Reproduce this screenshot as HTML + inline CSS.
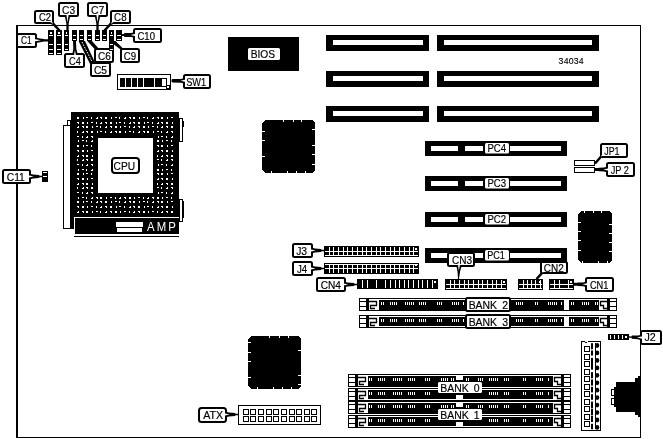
<!DOCTYPE html>
<html><head><meta charset="utf-8"><title>Motherboard layout</title>
<style>
html,body{margin:0;padding:0;background:#fff;}
svg{display:block;filter:grayscale(1);font-family:"Liberation Sans",sans-serif;}
</style></head>
<body>
<svg width="663" height="439" viewBox="0 0 663 439" shape-rendering="crispEdges">
<rect x="0" y="0" width="663" height="439" fill="#fff"/>
<rect x="16" y="25" width="2" height="413" fill="#000"/>
<rect x="16" y="25" width="625" height="1" fill="#000"/>
<rect x="640" y="25" width="1" height="413" fill="#000"/>
<rect x="16" y="437" width="625" height="1" fill="#000"/>
<rect x="48" y="30" width="6" height="25" fill="#000"/>
<rect x="49" y="35" width="4" height="1" fill="#fff"/>
<rect x="49" y="44" width="4" height="1" fill="#fff"/>
<rect x="49" y="49" width="4" height="1" fill="#fff"/>
<rect x="49" y="53" width="4" height="1" fill="#fff"/>
<rect x="50" y="32" width="2" height="2" fill="#fff"/>
<rect x="56" y="30" width="6" height="25" fill="#000"/>
<rect x="57" y="35" width="4" height="1" fill="#fff"/>
<rect x="57" y="44" width="4" height="1" fill="#fff"/>
<rect x="57" y="49" width="4" height="1" fill="#fff"/>
<rect x="57" y="53" width="4" height="1" fill="#fff"/>
<rect x="58" y="32" width="2" height="2" fill="#fff"/>
<rect x="64" y="30" width="5" height="21" fill="#000"/>
<rect x="65" y="35" width="3" height="1" fill="#fff"/>
<rect x="65" y="44" width="3" height="1" fill="#fff"/>
<rect x="65" y="49" width="3" height="1" fill="#fff"/>
<rect x="66" y="32" width="1" height="2" fill="#fff"/>
<rect x="72" y="30" width="5" height="11" fill="#000"/>
<rect x="73" y="35" width="3" height="1" fill="#fff"/>
<rect x="73" y="39" width="3" height="1" fill="#fff"/>
<rect x="79" y="30" width="5" height="11" fill="#000"/>
<rect x="80" y="35" width="3" height="1" fill="#fff"/>
<rect x="80" y="39" width="3" height="1" fill="#fff"/>
<rect x="87" y="30" width="5" height="11" fill="#000"/>
<rect x="88" y="35" width="3" height="1" fill="#fff"/>
<rect x="88" y="39" width="3" height="1" fill="#fff"/>
<rect x="95" y="30" width="5" height="11" fill="#000"/>
<rect x="96" y="35" width="3" height="1" fill="#fff"/>
<rect x="96" y="39" width="3" height="1" fill="#fff"/>
<rect x="102" y="30" width="5" height="11" fill="#000"/>
<rect x="103" y="35" width="3" height="1" fill="#fff"/>
<rect x="103" y="39" width="3" height="1" fill="#fff"/>
<rect x="116" y="30" width="6" height="11" fill="#000"/>
<rect x="117" y="35" width="4" height="1" fill="#fff"/>
<rect x="117" y="39" width="4" height="1" fill="#fff"/>
<polygon points="35.00,37.30 40.00,38.40 44.00,39.00 44.60,39.20 48.00,39.20 48.00,41.40 44.60,41.40 44.00,41.60 40.00,42.20 35.00,43.30" fill="#000" shape-rendering="geometricPrecision"/>
<rect x="17" y="34" width="19" height="13" rx="1.5" ry="1.5" fill="#fff" stroke="#000" stroke-width="2" shape-rendering="geometricPrecision"/>
<polygon points="34.00,39.10 41.00,40.25 41.00,40.35 34.00,41.50" fill="#fff" shape-rendering="geometricPrecision"/>
<text transform="translate(21.0,44.1) scale(0.759,1)" font-size="11" fill="#000" text-anchor="start" stroke="#000" stroke-width="0.18">C1</text>
<polygon points="53.07,20.13 54.32,23.07 54.96,23.83 55.37,24.27 60.41,29.65 58.59,31.35 53.55,25.98 53.14,25.54 52.42,24.85 49.57,23.41" fill="#000" shape-rendering="geometricPrecision"/>
<rect x="35" y="11" width="18" height="12" rx="1.5" ry="1.5" fill="#fff" stroke="#000" stroke-width="2" shape-rendering="geometricPrecision"/>
<polygon points="51.29,20.43 53.06,23.56 52.99,23.63 49.98,21.66" fill="#fff" shape-rendering="geometricPrecision"/>
<text transform="translate(39.0,21.0) scale(0.858,1)" font-size="11" fill="#000" text-anchor="start" stroke="#000" stroke-width="0.18">C2</text>
<polygon points="70.40,15.00 68.65,23.50 68.65,24.00 68.65,24.60 68.65,30.50 66.35,30.50 66.35,24.60 66.35,24.00 66.35,23.50 64.60,15.00" fill="#000" shape-rendering="geometricPrecision"/>
<rect x="59" y="3" width="19" height="13" rx="1.5" ry="1.5" fill="#fff" stroke="#000" stroke-width="2" shape-rendering="geometricPrecision"/>
<polygon points="68.70,14.00 67.55,22.00 67.45,22.00 66.30,14.00" fill="#fff" shape-rendering="geometricPrecision"/>
<text transform="translate(62.1,13.5) scale(0.929,1)" font-size="11" fill="#000" text-anchor="start" stroke="#000" stroke-width="0.18">C3</text>
<polygon points="100.40,15.00 98.65,23.50 98.65,24.00 98.65,24.60 98.65,30.50 96.35,30.50 96.35,24.60 96.35,24.00 96.35,23.50 94.60,15.00" fill="#000" shape-rendering="geometricPrecision"/>
<rect x="88" y="3" width="19" height="13" rx="1.5" ry="1.5" fill="#fff" stroke="#000" stroke-width="2" shape-rendering="geometricPrecision"/>
<polygon points="98.70,14.00 97.55,22.00 97.45,22.00 96.30,14.00" fill="#fff" shape-rendering="geometricPrecision"/>
<text transform="translate(91.0,13.5) scale(0.95,1)" font-size="11" fill="#000" text-anchor="start" stroke="#000" stroke-width="0.18">C7</text>
<polygon points="114.43,23.41 111.58,24.85 110.86,25.54 110.45,25.98 105.41,31.35 103.59,29.65 108.63,24.27 109.04,23.83 109.68,23.07 110.93,20.13" fill="#000" shape-rendering="geometricPrecision"/>
<rect x="111" y="11" width="19" height="12" rx="1.5" ry="1.5" fill="#fff" stroke="#000" stroke-width="2" shape-rendering="geometricPrecision"/>
<polygon points="114.02,21.66 111.01,23.63 110.94,23.56 112.71,20.43" fill="#fff" shape-rendering="geometricPrecision"/>
<text transform="translate(114.1,21.0) scale(0.887,1)" font-size="11" fill="#000" text-anchor="start" stroke="#000" stroke-width="0.18">C8</text>
<polygon points="135.00,38.00 131.00,37.10 124.50,37.00 123.90,36.00 122.00,36.00 122.00,34.00 123.90,34.00 124.50,33.00 131.00,32.90 135.00,32.00" fill="#000" shape-rendering="geometricPrecision"/>
<rect x="134" y="29" width="27" height="13" rx="1.5" ry="1.5" fill="#fff" stroke="#000" stroke-width="2" shape-rendering="geometricPrecision"/>
<polygon points="136.00,36.30 130.40,35.05 130.40,34.95 136.00,33.70" fill="#fff" shape-rendering="geometricPrecision"/>
<text transform="translate(137.4,39.5) scale(0.871,1)" font-size="11" fill="#000" text-anchor="start" stroke="#000" stroke-width="0.18">C10</text>
<polygon points="72.14,55.11 73.31,49.06 73.27,48.06 73.25,47.46 73.00,41.06 76.00,40.94 76.25,47.35 76.27,47.95 76.31,48.95 77.94,54.89" fill="#000" shape-rendering="geometricPrecision"/>
<rect x="65" y="54" width="19" height="13" rx="1.5" ry="1.5" fill="#fff" stroke="#000" stroke-width="2" shape-rendering="geometricPrecision"/>
<polygon points="73.98,56.04 74.82,50.50 74.92,50.50 76.18,55.96" fill="#fff" shape-rendering="geometricPrecision"/>
<text transform="translate(69.1,64.5) scale(0.837,1)" font-size="11" fill="#000" text-anchor="start" stroke="#000" stroke-width="0.18">C4</text>
<polygon points="87.3,41 92,41 99.5,49.5 95,49.5" fill="#000" shape-rendering="geometricPrecision"/>
<rect x="95" y="49" width="18" height="13" rx="1.5" ry="1.5" fill="#fff" stroke="#000" stroke-width="2" shape-rendering="geometricPrecision"/>
<text transform="translate(98.0,59.5) scale(0.915,1)" font-size="11" fill="#000" text-anchor="start" stroke="#000" stroke-width="0.18">C6</text>
<rect x="109" y="30" width="5" height="21" fill="#000"/>
<rect x="110" y="35" width="3" height="1" fill="#fff"/>
<rect x="110" y="44" width="3" height="1" fill="#fff"/>
<rect x="110" y="49" width="3" height="1" fill="#fff"/>
<rect x="111" y="32" width="1" height="2" fill="#fff"/>
<polygon points="78.6,41 85,41 95,62.5 90.3,64.5" fill="#000" shape-rendering="geometricPrecision"/>
<line x1="82" y1="42" x2="91.6" y2="61" stroke="#fff" stroke-width="1" stroke-dasharray="1.6 1.2" shape-rendering="geometricPrecision"/>
<rect x="91" y="63" width="19" height="13" rx="1.5" ry="1.5" fill="#fff" stroke="#000" stroke-width="2" shape-rendering="geometricPrecision"/>
<text transform="translate(94.0,73.5) scale(0.929,1)" font-size="11" fill="#000" text-anchor="start" stroke="#000" stroke-width="0.18">C5</text>
<polygon points="114,41 115.5,41 124,49.5 120.5,49.5 114,44.5" fill="#000" shape-rendering="geometricPrecision"/>
<rect x="121" y="49" width="18" height="13" rx="1.5" ry="1.5" fill="#fff" stroke="#000" stroke-width="2" shape-rendering="geometricPrecision"/>
<text transform="translate(123.7,59.5) scale(0.879,1)" font-size="11" fill="#000" text-anchor="start" stroke="#000" stroke-width="0.18">C9</text>
<rect x="117" y="74" width="54" height="16" fill="#000"/>
<rect x="118" y="75" width="52" height="14" fill="#fff"/>
<rect x="120" y="78" width="47" height="9" fill="#000"/>
<rect x="125" y="78" width="1" height="9" fill="#fff"/>
<rect x="131" y="78" width="1" height="9" fill="#fff"/>
<rect x="137" y="78" width="1" height="9" fill="#fff"/>
<rect x="143" y="78" width="1" height="9" fill="#fff"/>
<rect x="154" y="78" width="1" height="9" fill="#fff"/>
<rect x="162" y="79" width="4" height="7" fill="#fff"/>
<rect x="166" y="85" width="4" height="4" fill="#000"/>
<rect x="167" y="86" width="2" height="2" fill="#fff"/>
<polygon points="185.00,83.80 181.00,82.70 172.50,82.50 171.90,82.00 171.50,82.00 171.50,79.60 171.90,79.60 172.50,79.10 181.00,78.90 185.00,77.80" fill="#000" shape-rendering="geometricPrecision"/>
<rect x="184" y="75" width="26" height="13" rx="1.5" ry="1.5" fill="#fff" stroke="#000" stroke-width="2" shape-rendering="geometricPrecision"/>
<polygon points="186.00,82.10 180.40,80.85 180.40,80.75 186.00,79.50" fill="#fff" shape-rendering="geometricPrecision"/>
<text transform="translate(186.2,85.5) scale(0.836,1)" font-size="11" fill="#000" text-anchor="start" stroke="#000" stroke-width="0.18">SW1</text>
<rect x="228" y="37" width="71" height="34" fill="#000"/>
<rect x="248" y="48" width="32" height="12" rx="1.5" ry="1.5" fill="#fff" shape-rendering="geometricPrecision"/>
<text transform="translate(250.7,58.0) scale(0.928,1)" font-size="11" fill="#000" text-anchor="start" stroke="#000" stroke-width="0.18">BIOS</text>
<rect x="326" y="35" width="103" height="16" fill="#000"/>
<rect x="333" y="40" width="90" height="5" fill="#fff"/>
<rect x="437" y="35" width="162" height="16" fill="#000"/>
<rect x="444" y="40" width="148" height="5" fill="#fff"/>
<rect x="326" y="71" width="103" height="16" fill="#000"/>
<rect x="333" y="76" width="90" height="5" fill="#fff"/>
<rect x="437" y="71" width="162" height="16" fill="#000"/>
<rect x="444" y="76" width="148" height="5" fill="#fff"/>
<rect x="326" y="106" width="103" height="16" fill="#000"/>
<rect x="333" y="111" width="90" height="5" fill="#fff"/>
<rect x="437" y="106" width="162" height="16" fill="#000"/>
<rect x="444" y="111" width="148" height="5" fill="#fff"/>
<text transform="translate(558.6,63.9) scale(0.89,1)" font-size="9.8" fill="#000" text-anchor="start" stroke="#000" stroke-width="0.15" letter-spacing="0.25">34034</text>
<rect x="425" y="141" width="142" height="15" fill="#000"/>
<rect x="431" y="146" width="27" height="5" fill="#fff"/>
<rect x="465" y="146" width="18" height="5" fill="#fff"/>
<rect x="510" y="146" width="51" height="5" fill="#fff"/>
<rect x="485" y="143" width="24" height="10.5" rx="1.5" ry="1.5" fill="#fff" shape-rendering="geometricPrecision"/>
<text transform="translate(487.4,152.25) scale(0.874,1)" font-size="11" fill="#000" text-anchor="start" stroke="#000" stroke-width="0.18">PC4</text>
<rect x="425" y="176" width="142" height="15" fill="#000"/>
<rect x="431" y="181" width="27" height="5" fill="#fff"/>
<rect x="465" y="181" width="18" height="5" fill="#fff"/>
<rect x="510" y="181" width="51" height="5" fill="#fff"/>
<rect x="485" y="178" width="24" height="10.5" rx="1.5" ry="1.5" fill="#fff" shape-rendering="geometricPrecision"/>
<text transform="translate(487.4,187.25) scale(0.874,1)" font-size="11" fill="#000" text-anchor="start" stroke="#000" stroke-width="0.18">PC3</text>
<rect x="425" y="212" width="142" height="15" fill="#000"/>
<rect x="431" y="217" width="27" height="5" fill="#fff"/>
<rect x="465" y="217" width="18" height="5" fill="#fff"/>
<rect x="510" y="217" width="51" height="5" fill="#fff"/>
<rect x="485" y="214" width="24" height="10.5" rx="1.5" ry="1.5" fill="#fff" shape-rendering="geometricPrecision"/>
<text transform="translate(487.4,223.25) scale(0.874,1)" font-size="11" fill="#000" text-anchor="start" stroke="#000" stroke-width="0.18">PC2</text>
<rect x="425" y="248" width="142" height="15" fill="#000"/>
<rect x="431" y="253" width="27" height="5" fill="#fff"/>
<rect x="465" y="253" width="18" height="5" fill="#fff"/>
<rect x="510" y="253" width="51" height="5" fill="#fff"/>
<rect x="485" y="250" width="24" height="10.5" rx="1.5" ry="1.5" fill="#fff" shape-rendering="geometricPrecision"/>
<text transform="translate(487.2,259.25) scale(0.827,1)" font-size="11" fill="#000" text-anchor="start" stroke="#000" stroke-width="0.18">PC1</text>
<rect x="574" y="160" width="21" height="6" fill="#000"/>
<rect x="575" y="161" width="19" height="4" fill="#fff"/>
<rect x="574" y="167" width="21" height="6" fill="#000"/>
<rect x="575" y="168" width="19" height="4" fill="#fff"/>
<polygon points="604.46,156.33 601.66,157.86 600.97,158.58 600.57,159.03 595.94,164.32 594.06,162.68 598.69,157.39 599.08,156.93 599.70,156.15 600.85,153.17" fill="#000" shape-rendering="geometricPrecision"/>
<rect x="601" y="144" width="26" height="13" rx="1.5" ry="1.5" fill="#fff" stroke="#000" stroke-width="2" shape-rendering="geometricPrecision"/>
<polygon points="603.99,154.59 601.05,156.66 600.97,156.60 602.64,153.40" fill="#fff" shape-rendering="geometricPrecision"/>
<text transform="translate(604.2,154.5) scale(0.811,1)" font-size="11" fill="#000" text-anchor="start" stroke="#000" stroke-width="0.18">JP1</text>
<polygon points="608.00,172.50 604.00,171.40 599.00,171.20 598.40,171.00 595.00,171.00 595.00,168.00 598.40,168.00 599.00,167.80 604.00,167.60 608.00,166.50" fill="#000" shape-rendering="geometricPrecision"/>
<rect x="607" y="163" width="27" height="13" rx="1.5" ry="1.5" fill="#fff" stroke="#000" stroke-width="2" shape-rendering="geometricPrecision"/>
<polygon points="609.00,170.80 603.40,169.55 603.40,169.45 609.00,168.20" fill="#fff" shape-rendering="geometricPrecision"/>
<text transform="translate(610.7,173.5) scale(0.835,1)" font-size="11" fill="#000" text-anchor="start" stroke="#000" stroke-width="0.18">JP 2</text>
<polygon points="265,120 312,120 315,123 315,170 312,173 265,173 262,170 262,123" fill="#000"/>
<rect x="283" y="120" width="1" height="2" fill="#fff"/>
<rect x="293" y="120" width="1" height="2" fill="#fff"/>
<rect x="301" y="120" width="1" height="2" fill="#fff"/>
<rect x="271" y="171" width="1" height="2" fill="#fff"/>
<rect x="287" y="171" width="1" height="2" fill="#fff"/>
<rect x="296" y="171" width="1" height="2" fill="#fff"/>
<rect x="305" y="171" width="1" height="2" fill="#fff"/>
<rect x="262" y="131" width="3" height="1" fill="#fff"/>
<rect x="262" y="140" width="3" height="1" fill="#fff"/>
<rect x="262" y="156" width="3" height="1" fill="#fff"/>
<rect x="312" y="129" width="3" height="1" fill="#fff"/>
<rect x="312" y="145" width="3" height="1" fill="#fff"/>
<rect x="312" y="154" width="3" height="1" fill="#fff"/>
<rect x="312" y="164" width="3" height="1" fill="#fff"/>
<polygon points="251,336 298,336 301,339 301,386 298,389 251,389 248,386 248,339" fill="#000"/>
<rect x="269" y="336" width="1" height="2" fill="#fff"/>
<rect x="279" y="336" width="1" height="2" fill="#fff"/>
<rect x="288" y="336" width="1" height="2" fill="#fff"/>
<rect x="257" y="387" width="1" height="2" fill="#fff"/>
<rect x="273" y="387" width="1" height="2" fill="#fff"/>
<rect x="282" y="387" width="1" height="2" fill="#fff"/>
<rect x="291" y="387" width="1" height="2" fill="#fff"/>
<rect x="248" y="342" width="3" height="1" fill="#fff"/>
<rect x="248" y="352" width="3" height="1" fill="#fff"/>
<rect x="248" y="361" width="3" height="1" fill="#fff"/>
<rect x="248" y="377" width="3" height="1" fill="#fff"/>
<rect x="298" y="350" width="3" height="1" fill="#fff"/>
<rect x="298" y="375" width="3" height="1" fill="#fff"/>
<rect x="298" y="384" width="3" height="1" fill="#fff"/>
<polygon points="581,211 609,211 612,214 612,260 609,263 581,263 578,260 578,214" fill="#000"/>
<rect x="584" y="211" width="1" height="2" fill="#fff"/>
<rect x="593" y="211" width="1" height="2" fill="#fff"/>
<rect x="601" y="211" width="1" height="2" fill="#fff"/>
<rect x="582" y="261" width="1" height="2" fill="#fff"/>
<rect x="598" y="261" width="1" height="2" fill="#fff"/>
<rect x="607" y="261" width="1" height="2" fill="#fff"/>
<rect x="578" y="222" width="3" height="1" fill="#fff"/>
<rect x="578" y="231" width="3" height="1" fill="#fff"/>
<rect x="578" y="240" width="3" height="1" fill="#fff"/>
<rect x="578" y="250" width="3" height="1" fill="#fff"/>
<rect x="609" y="224" width="3" height="1" fill="#fff"/>
<rect x="609" y="233" width="3" height="1" fill="#fff"/>
<rect x="609" y="242" width="3" height="1" fill="#fff"/>
<rect x="609" y="251" width="3" height="1" fill="#fff"/>
<rect x="71" y="112" width="108" height="105" fill="#000"/>
<rect x="70" y="120" width="4" height="109" fill="#000"/>
<rect x="63" y="125" width="8" height="104" fill="#000"/>
<rect x="64" y="126" width="6" height="102" fill="#fff"/>
<rect x="67" y="120" width="4" height="6" fill="#000"/>
<rect x="68" y="121" width="2" height="4" fill="#fff"/>
<rect x="98" y="138" width="55" height="55" fill="#fff"/>
<path d="M77,117h2v2h-2zM77,122h2v2h-1v-1h-1zM77,127h1v-1h1v2h-2zM77,131h1v2h-1zM77,136h2v1h-2zM78,140h1v2h-1zM77,145h2v2h-2zM77,150h2v2h-1v-1h-1zM77,156h1v-1h1v2h-2zM77,159h1v2h-1zM77,164h2v1h-2zM78,169h1v2h-1zM77,173h2v2h-2zM77,178h2v2h-1v-1h-1zM77,184h1v-1h1v2h-2zM77,187h1v2h-1zM77,192h2v1h-2zM78,197h1v2h-1zM77,201h2v2h-2zM77,206h2v2h-1v-1h-1zM77,212h1v-1h1v2h-2zM83,117h1v2h-1zM82,122h2v2h-2zM82,126h2v2h-1v-1h-1zM82,132h1v-1h1v2h-2zM82,136h1v2h-1zM82,140h2v1h-2zM83,145h1v2h-1zM82,150h2v2h-2zM82,155h2v2h-1v-1h-1zM82,160h1v-1h1v2h-2zM82,164h1v2h-1zM82,169h2v1h-2zM83,173h1v2h-1zM82,178h2v2h-2zM82,183h2v2h-1v-1h-1zM82,188h1v-1h1v2h-2zM82,192h1v2h-1zM82,197h2v1h-2zM83,201h1v2h-1zM82,206h2v2h-2zM82,211h2v2h-1v-1h-1zM86,117h2v1h-2zM87,122h1v2h-1zM86,126h2v2h-2zM86,131h2v2h-1v-1h-1zM86,137h1v-1h1v2h-2zM86,140h1v2h-1zM86,145h2v1h-2zM87,150h1v2h-1zM86,155h2v2h-2zM86,159h2v2h-1v-1h-1zM86,165h1v-1h1v2h-2zM86,169h1v2h-1zM86,173h2v1h-2zM87,178h1v2h-1zM86,183h2v2h-2zM86,187h2v2h-1v-1h-1zM86,193h1v-1h1v2h-2zM86,197h1v2h-1zM86,201h2v1h-2zM87,206h1v2h-1zM86,211h2v2h-2zM91,117h1v2h-1zM91,122h2v1h-2zM92,126h1v2h-1zM91,131h2v2h-2zM91,136h2v2h-1v-1h-1zM91,141h1v-1h1v2h-2zM91,145h1v2h-1zM91,150h2v1h-2zM92,155h1v2h-1zM91,159h2v2h-2zM91,164h2v2h-1v-1h-1zM91,170h1v-1h1v2h-2zM91,173h1v2h-1zM91,178h2v1h-2zM92,183h1v2h-1zM91,187h2v2h-2zM91,192h2v2h-1v-1h-1zM91,198h1v-1h1v2h-2zM91,201h1v2h-1zM91,206h2v1h-2zM92,211h1v2h-1zM96,118h1v-1h1v2h-2zM96,122h1v2h-1zM96,126h2v1h-2zM97,131h1v2h-1zM96,197h2v2h-1v-1h-1zM96,202h1v-1h1v2h-2zM96,206h1v2h-1zM96,211h2v1h-2zM100,117h2v2h-1v-1h-1zM100,123h1v-1h1v2h-2zM100,126h1v2h-1zM100,131h2v1h-2zM100,197h2v2h-2zM100,201h2v2h-1v-1h-1zM100,207h1v-1h1v2h-2zM100,211h1v2h-1zM105,117h2v2h-2zM105,122h2v2h-1v-1h-1zM105,127h1v-1h1v2h-2zM105,131h1v2h-1zM106,197h1v2h-1zM105,201h2v2h-2zM105,206h2v2h-1v-1h-1zM105,212h1v-1h1v2h-2zM111,117h1v2h-1zM110,122h2v2h-2zM110,126h2v2h-1v-1h-1zM110,132h1v-1h1v2h-2zM110,197h2v1h-2zM111,201h1v2h-1zM110,206h2v2h-2zM110,211h2v2h-1v-1h-1zM115,117h2v1h-2zM116,122h1v2h-1zM115,126h2v2h-2zM115,131h2v2h-1v-1h-1zM115,197h1v2h-1zM115,201h2v1h-2zM116,206h1v2h-1zM115,211h2v2h-2zM119,117h1v2h-1zM119,122h2v1h-2zM120,126h1v2h-1zM119,131h2v2h-2zM119,198h1v-1h1v2h-2zM119,201h1v2h-1zM119,206h2v1h-2zM120,211h1v2h-1zM124,118h1v-1h1v2h-2zM124,122h1v2h-1zM124,126h2v1h-2zM125,131h1v2h-1zM124,197h2v2h-1v-1h-1zM124,202h1v-1h1v2h-2zM124,206h1v2h-1zM124,211h2v1h-2zM129,117h2v2h-1v-1h-1zM129,123h1v-1h1v2h-2zM129,126h1v2h-1zM129,131h2v1h-2zM129,197h2v2h-2zM129,201h2v2h-1v-1h-1zM129,207h1v-1h1v2h-2zM129,211h1v2h-1zM133,117h2v2h-2zM133,122h2v2h-1v-1h-1zM133,127h1v-1h1v2h-2zM133,131h1v2h-1zM134,197h1v2h-1zM133,201h2v2h-2zM133,206h2v2h-1v-1h-1zM133,212h1v-1h1v2h-2zM139,117h1v2h-1zM138,122h2v2h-2zM138,126h2v2h-1v-1h-1zM138,132h1v-1h1v2h-2zM138,197h2v1h-2zM139,201h1v2h-1zM138,206h2v2h-2zM138,211h2v2h-1v-1h-1zM143,117h2v1h-2zM144,122h1v2h-1zM143,126h2v2h-2zM143,131h2v2h-1v-1h-1zM143,197h1v2h-1zM143,201h2v1h-2zM144,206h1v2h-1zM143,211h2v2h-2zM147,117h1v2h-1zM147,122h2v1h-2zM148,126h1v2h-1zM147,131h2v2h-2zM147,198h1v-1h1v2h-2zM147,201h1v2h-1zM147,206h2v1h-2zM148,211h1v2h-1zM152,118h1v-1h1v2h-2zM152,122h1v2h-1zM152,126h2v1h-2zM153,131h1v2h-1zM152,197h2v2h-1v-1h-1zM152,202h1v-1h1v2h-2zM152,206h1v2h-1zM152,211h2v1h-2zM157,117h2v2h-1v-1h-1zM157,123h1v-1h1v2h-2zM157,126h1v2h-1zM157,131h2v1h-2zM158,136h1v2h-1zM157,140h2v2h-2zM157,145h2v2h-1v-1h-1zM157,151h1v-1h1v2h-2zM157,155h1v2h-1zM157,159h2v1h-2zM158,164h1v2h-1zM157,169h2v2h-2zM157,173h2v2h-1v-1h-1zM157,179h1v-1h1v2h-2zM157,183h1v2h-1zM157,187h2v1h-2zM158,192h1v2h-1zM157,197h2v2h-2zM157,201h2v2h-1v-1h-1zM157,207h1v-1h1v2h-2zM157,211h1v2h-1zM161,117h2v2h-2zM161,122h2v2h-1v-1h-1zM161,127h1v-1h1v2h-2zM161,131h1v2h-1zM161,136h2v1h-2zM162,140h1v2h-1zM161,145h2v2h-2zM161,150h2v2h-1v-1h-1zM161,156h1v-1h1v2h-2zM161,159h1v2h-1zM161,164h2v1h-2zM162,169h1v2h-1zM161,173h2v2h-2zM161,178h2v2h-1v-1h-1zM161,184h1v-1h1v2h-2zM161,187h1v2h-1zM161,192h2v1h-2zM162,197h1v2h-1zM161,201h2v2h-2zM161,206h2v2h-1v-1h-1zM161,212h1v-1h1v2h-2zM167,117h1v2h-1zM166,122h2v2h-2zM166,126h2v2h-1v-1h-1zM166,132h1v-1h1v2h-2zM166,136h1v2h-1zM166,140h2v1h-2zM167,145h1v2h-1zM166,150h2v2h-2zM166,155h2v2h-1v-1h-1zM166,160h1v-1h1v2h-2zM166,164h1v2h-1zM166,169h2v1h-2zM167,173h1v2h-1zM166,178h2v2h-2zM166,183h2v2h-1v-1h-1zM166,188h1v-1h1v2h-2zM166,192h1v2h-1zM166,197h2v1h-2zM167,201h1v2h-1zM166,206h2v2h-2zM166,211h2v2h-1v-1h-1zM171,117h2v1h-2zM172,122h1v2h-1zM171,126h2v2h-2zM171,131h2v2h-1v-1h-1zM171,137h1v-1h1v2h-2zM171,140h1v2h-1zM171,145h2v1h-2zM172,150h1v2h-1zM171,155h2v2h-2zM171,159h2v2h-1v-1h-1zM171,165h1v-1h1v2h-2zM171,169h1v2h-1zM171,173h2v1h-2zM172,178h1v2h-1zM171,183h2v2h-2zM171,187h2v2h-1v-1h-1zM171,193h1v-1h1v2h-2zM171,197h1v2h-1zM171,201h2v1h-2zM172,206h1v2h-1zM171,211h2v2h-2z" fill="#fff"/>
<rect x="179" y="118" width="4" height="24" fill="#000"/>
<rect x="180" y="119" width="2" height="22" fill="#fff"/>
<rect x="183" y="121" width="1" height="6" fill="#000"/>
<rect x="179" y="199" width="4" height="23" fill="#000"/>
<rect x="180" y="200" width="2" height="21" fill="#fff"/>
<rect x="183" y="201" width="1" height="17" fill="#000"/>
<rect x="74" y="217" width="105" height="17" fill="#000"/>
<rect x="74" y="217" width="105" height="1" fill="#fff"/>
<rect x="74" y="217" width="1" height="17" fill="#fff"/>
<rect x="74" y="236" width="105" height="1" fill="#000"/>
<rect x="116" y="222" width="27" height="5" fill="#fff"/>
<rect x="117" y="228" width="25" height="4" fill="#fff"/>
<text transform="translate(162.5,231) scale(0.95,1)" font-size="12" fill="#fff" text-anchor="middle" letter-spacing="2.2">AMP</text>
<rect x="112" y="158" width="27" height="15" rx="3" ry="3" fill="#fff" stroke="#000" stroke-width="2" shape-rendering="geometricPrecision"/>
<text transform="translate(113.6,170.0) scale(0.927,1)" font-size="11" fill="#000" text-anchor="start" stroke="#000" stroke-width="0.18">CPU</text>
<rect x="42" y="171" width="6" height="11" fill="#000"/>
<rect x="43" y="172" width="4" height="1" fill="#fff"/>
<rect x="43" y="176" width="4" height="1" fill="#fff"/>
<polygon points="29.00,173.50 33.00,174.60 39.00,174.90 39.60,175.80 42.00,175.80 42.00,177.20 39.60,177.20 39.00,178.10 33.00,178.40 29.00,179.50" fill="#000" shape-rendering="geometricPrecision"/>
<rect x="3" y="170" width="27" height="13" rx="1.5" ry="1.5" fill="#fff" stroke="#000" stroke-width="2" shape-rendering="geometricPrecision"/>
<polygon points="28.00,175.20 33.60,176.45 33.60,176.55 28.00,177.80" fill="#fff" shape-rendering="geometricPrecision"/>
<text transform="translate(6.7,180.5) scale(0.938,1)" font-size="11" fill="#000" text-anchor="start" stroke="#000" stroke-width="0.18">C11</text>
<rect x="324" y="246" width="95" height="11" fill="#000"/>
<rect x="325" y="251" width="93" height="1" fill="#fff"/>
<rect x="325" y="255" width="93" height="1" fill="#fff"/>
<rect x="329" y="247" width="1" height="9" fill="#fff"/>
<rect x="333" y="247" width="1" height="9" fill="#fff"/>
<rect x="338" y="247" width="1" height="9" fill="#fff"/>
<rect x="343" y="247" width="1" height="9" fill="#fff"/>
<rect x="347" y="247" width="1" height="9" fill="#fff"/>
<rect x="352" y="247" width="1" height="9" fill="#fff"/>
<rect x="357" y="247" width="1" height="9" fill="#fff"/>
<rect x="362" y="247" width="1" height="9" fill="#fff"/>
<rect x="366" y="247" width="1" height="9" fill="#fff"/>
<rect x="371" y="247" width="1" height="9" fill="#fff"/>
<rect x="376" y="247" width="1" height="9" fill="#fff"/>
<rect x="380" y="247" width="1" height="9" fill="#fff"/>
<rect x="385" y="247" width="1" height="9" fill="#fff"/>
<rect x="390" y="247" width="1" height="9" fill="#fff"/>
<rect x="394" y="247" width="1" height="9" fill="#fff"/>
<rect x="399" y="247" width="1" height="9" fill="#fff"/>
<rect x="404" y="247" width="1" height="9" fill="#fff"/>
<rect x="409" y="247" width="1" height="9" fill="#fff"/>
<rect x="413" y="247" width="1" height="9" fill="#fff"/>
<rect x="415" y="248" width="2" height="2" fill="#fff"/>
<rect x="324" y="263" width="95" height="11" fill="#000"/>
<rect x="325" y="264" width="93" height="1" fill="#fff"/>
<rect x="325" y="268" width="93" height="1" fill="#fff"/>
<rect x="329" y="264" width="1" height="9" fill="#fff"/>
<rect x="333" y="264" width="1" height="9" fill="#fff"/>
<rect x="338" y="264" width="1" height="9" fill="#fff"/>
<rect x="343" y="264" width="1" height="9" fill="#fff"/>
<rect x="347" y="264" width="1" height="9" fill="#fff"/>
<rect x="352" y="264" width="1" height="9" fill="#fff"/>
<rect x="357" y="264" width="1" height="9" fill="#fff"/>
<rect x="362" y="264" width="1" height="9" fill="#fff"/>
<rect x="366" y="264" width="1" height="9" fill="#fff"/>
<rect x="371" y="264" width="1" height="9" fill="#fff"/>
<rect x="376" y="264" width="1" height="9" fill="#fff"/>
<rect x="380" y="264" width="1" height="9" fill="#fff"/>
<rect x="385" y="264" width="1" height="9" fill="#fff"/>
<rect x="390" y="264" width="1" height="9" fill="#fff"/>
<rect x="394" y="264" width="1" height="9" fill="#fff"/>
<rect x="399" y="264" width="1" height="9" fill="#fff"/>
<rect x="404" y="264" width="1" height="9" fill="#fff"/>
<rect x="409" y="264" width="1" height="9" fill="#fff"/>
<rect x="413" y="264" width="1" height="9" fill="#fff"/>
<rect x="415" y="265" width="2" height="1" fill="#fff"/>
<polygon points="311.00,247.50 315.00,248.60 321.00,248.90 321.60,249.80 324.00,249.80 324.00,251.20 321.60,251.20 321.00,252.10 315.00,252.40 311.00,253.50" fill="#000" shape-rendering="geometricPrecision"/>
<rect x="293" y="244" width="19" height="13" rx="1.5" ry="1.5" fill="#fff" stroke="#000" stroke-width="2" shape-rendering="geometricPrecision"/>
<polygon points="310.00,249.20 315.60,250.45 315.60,250.55 310.00,251.80" fill="#fff" shape-rendering="geometricPrecision"/>
<text transform="translate(296.2,254.5) scale(0.94,1)" font-size="11" fill="#000" text-anchor="start" stroke="#000" stroke-width="0.18">J3</text>
<polygon points="311.00,265.50 315.00,266.60 321.00,266.90 321.60,267.80 324.00,267.80 324.00,269.20 321.60,269.20 321.00,270.10 315.00,270.40 311.00,271.50" fill="#000" shape-rendering="geometricPrecision"/>
<rect x="293" y="262" width="19" height="13" rx="1.5" ry="1.5" fill="#fff" stroke="#000" stroke-width="2" shape-rendering="geometricPrecision"/>
<polygon points="310.00,267.20 315.60,268.45 315.60,268.55 310.00,269.80" fill="#fff" shape-rendering="geometricPrecision"/>
<text transform="translate(296.9,272.5) scale(0.879,1)" font-size="11" fill="#000" text-anchor="start" stroke="#000" stroke-width="0.18">J4</text>
<rect x="357" y="279" width="81" height="10" fill="#000"/>
<rect x="362" y="280" width="1" height="8" fill="#fff"/>
<rect x="367" y="280" width="1" height="8" fill="#fff"/>
<rect x="376" y="280" width="1" height="8" fill="#fff"/>
<rect x="385" y="280" width="1" height="8" fill="#fff"/>
<rect x="390" y="280" width="1" height="8" fill="#fff"/>
<rect x="395" y="280" width="1" height="8" fill="#fff"/>
<rect x="399" y="280" width="1" height="8" fill="#fff"/>
<rect x="404" y="280" width="1" height="8" fill="#fff"/>
<rect x="408" y="280" width="1" height="8" fill="#fff"/>
<rect x="413" y="280" width="1" height="8" fill="#fff"/>
<rect x="418" y="280" width="1" height="8" fill="#fff"/>
<rect x="422" y="280" width="1" height="8" fill="#fff"/>
<rect x="427" y="280" width="1" height="8" fill="#fff"/>
<rect x="432" y="280" width="1" height="8" fill="#fff"/>
<rect x="434" y="281" width="2" height="2" fill="#fff"/>
<polygon points="343.50,281.50 347.50,282.60 354.00,282.90 354.60,283.80 357.00,283.80 357.00,285.20 354.60,285.20 354.00,286.10 347.50,286.40 343.50,287.50" fill="#000" shape-rendering="geometricPrecision"/>
<rect x="317" y="278" width="28" height="13" rx="1.5" ry="1.5" fill="#fff" stroke="#000" stroke-width="2" shape-rendering="geometricPrecision"/>
<polygon points="342.50,283.20 348.10,284.45 348.10,284.55 342.50,285.80" fill="#fff" shape-rendering="geometricPrecision"/>
<text transform="translate(320.7,288.5) scale(0.923,1)" font-size="11" fill="#000" text-anchor="start" stroke="#000" stroke-width="0.18">CN4</text>
<rect x="445" y="279" width="62" height="11" fill="#000"/>
<rect x="446" y="284" width="60" height="1" fill="#fff"/>
<rect x="446" y="288" width="60" height="1" fill="#fff"/>
<rect x="450" y="280" width="1" height="9" fill="#fff"/>
<rect x="454" y="280" width="1" height="9" fill="#fff"/>
<rect x="459" y="280" width="1" height="9" fill="#fff"/>
<rect x="464" y="280" width="1" height="9" fill="#fff"/>
<rect x="468" y="280" width="1" height="9" fill="#fff"/>
<rect x="473" y="280" width="1" height="9" fill="#fff"/>
<rect x="478" y="280" width="1" height="9" fill="#fff"/>
<rect x="482" y="280" width="1" height="9" fill="#fff"/>
<rect x="487" y="280" width="1" height="9" fill="#fff"/>
<rect x="492" y="280" width="1" height="9" fill="#fff"/>
<rect x="496" y="280" width="1" height="9" fill="#fff"/>
<rect x="501" y="280" width="1" height="9" fill="#fff"/>
<rect x="503" y="281" width="2" height="2" fill="#fff"/>
<rect x="518" y="279" width="25" height="11" fill="#000"/>
<rect x="519" y="284" width="23" height="1" fill="#fff"/>
<rect x="519" y="288" width="23" height="1" fill="#fff"/>
<rect x="523" y="280" width="1" height="9" fill="#fff"/>
<rect x="527" y="280" width="1" height="9" fill="#fff"/>
<rect x="531" y="280" width="1" height="9" fill="#fff"/>
<rect x="535" y="280" width="1" height="9" fill="#fff"/>
<rect x="540" y="280" width="1" height="9" fill="#fff"/>
<rect x="539" y="281" width="2" height="2" fill="#fff"/>
<rect x="549" y="279" width="25" height="11" fill="#000"/>
<rect x="550" y="284" width="23" height="1" fill="#fff"/>
<rect x="550" y="288" width="23" height="1" fill="#fff"/>
<rect x="554" y="280" width="1" height="9" fill="#fff"/>
<rect x="559" y="280" width="1" height="9" fill="#fff"/>
<rect x="568" y="280" width="1" height="9" fill="#fff"/>
<rect x="570" y="281" width="2" height="2" fill="#fff"/>
<polygon points="462.03,264.61 460.08,271.54 459.16,277.51 459.13,278.11 459.10,279.02 457.90,278.98 457.93,278.07 457.96,277.47 457.48,271.45 456.04,264.39" fill="#000" shape-rendering="geometricPrecision"/>
<rect x="448" y="253" width="26" height="13" rx="1.5" ry="1.5" fill="#fff" stroke="#000" stroke-width="2" shape-rendering="geometricPrecision"/>
<polygon points="460.27,263.55 458.86,270.50 458.76,270.49 457.87,263.46" fill="#fff" shape-rendering="geometricPrecision"/>
<text transform="translate(452.0,263.5) scale(0.914,1)" font-size="11" fill="#000" text-anchor="start" stroke="#000" stroke-width="0.18">CN3</text>
<polygon points="545.94,272.41 543.09,273.85 542.37,274.55 541.96,274.98 537.41,279.85 535.59,278.15 540.13,273.28 540.54,272.84 541.18,272.08 542.43,269.13" fill="#000" shape-rendering="geometricPrecision"/>
<rect x="541" y="262" width="26" height="11" rx="1.5" ry="1.5" fill="#fff" stroke="#000" stroke-width="2" shape-rendering="geometricPrecision"/>
<polygon points="545.52,270.65 542.51,272.63 542.44,272.56 544.21,269.42" fill="#fff" shape-rendering="geometricPrecision"/>
<text transform="translate(543.8,271.5) scale(0.905,1)" font-size="11" fill="#000" text-anchor="start" stroke="#000" stroke-width="0.18">CN2</text>
<polygon points="587.00,287.30 583.00,286.20 578.00,286.00 577.40,285.80 574.00,285.80 574.00,282.80 577.40,282.80 578.00,282.60 583.00,282.40 587.00,281.30" fill="#000" shape-rendering="geometricPrecision"/>
<rect x="586" y="278" width="27" height="13" rx="1.5" ry="1.5" fill="#fff" stroke="#000" stroke-width="2" shape-rendering="geometricPrecision"/>
<polygon points="588.00,285.60 582.40,284.35 582.40,284.25 588.00,283.00" fill="#fff" shape-rendering="geometricPrecision"/>
<text transform="translate(589.9,288.5) scale(0.845,1)" font-size="11" fill="#000" text-anchor="start" stroke="#000" stroke-width="0.18">CN1</text>
<rect x="359" y="298" width="258" height="13" fill="#000"/>
<rect x="360" y="299" width="256" height="11" fill="#fff"/>
<rect x="359" y="298" width="10" height="13" fill="#000"/>
<rect x="360" y="299" width="6" height="2" fill="#fff"/>
<rect x="360" y="302" width="6" height="4" fill="#fff"/>
<rect x="360" y="307" width="6" height="3" fill="#fff"/>
<path d="M369,301.5 H376.5 V305.5 H370.5 V308.5 H375" fill="none" stroke="#000" stroke-width="1.3" shape-rendering="geometricPrecision"/>
<rect x="607" y="298" width="10" height="13" fill="#000"/>
<rect x="610" y="299" width="6" height="2" fill="#fff"/>
<rect x="610" y="302" width="6" height="4" fill="#fff"/>
<rect x="610" y="307" width="6" height="3" fill="#fff"/>
<path d="M607,301.5 H600.5 V305.5 H603.5 V308.5 H607" fill="none" stroke="#000" stroke-width="1.3" shape-rendering="geometricPrecision"/>
<rect x="379" y="300" width="220" height="11" fill="#000"/>
<rect x="381" y="302" width="1" height="3" fill="#fff"/>
<rect x="383" y="302" width="1" height="3" fill="#fff"/>
<rect x="390" y="302" width="1" height="3" fill="#fff"/>
<rect x="392" y="302" width="1" height="3" fill="#fff"/>
<rect x="394" y="302" width="1" height="3" fill="#fff"/>
<rect x="396" y="302" width="1" height="3" fill="#fff"/>
<rect x="405" y="302" width="1" height="3" fill="#fff"/>
<rect x="407" y="302" width="1" height="3" fill="#fff"/>
<rect x="409" y="302" width="1" height="3" fill="#fff"/>
<rect x="411" y="302" width="1" height="3" fill="#fff"/>
<rect x="413" y="302" width="1" height="3" fill="#fff"/>
<rect x="419" y="302" width="1" height="3" fill="#fff"/>
<rect x="421" y="302" width="1" height="3" fill="#fff"/>
<rect x="423" y="302" width="1" height="3" fill="#fff"/>
<rect x="425" y="302" width="1" height="3" fill="#fff"/>
<rect x="437" y="302" width="1" height="3" fill="#fff"/>
<rect x="439" y="302" width="1" height="3" fill="#fff"/>
<rect x="441" y="302" width="1" height="3" fill="#fff"/>
<rect x="452" y="302" width="1" height="3" fill="#fff"/>
<rect x="454" y="302" width="1" height="3" fill="#fff"/>
<rect x="456" y="302" width="1" height="3" fill="#fff"/>
<rect x="458" y="302" width="1" height="3" fill="#fff"/>
<rect x="463" y="302" width="1" height="3" fill="#fff"/>
<rect x="516" y="302" width="1" height="3" fill="#fff"/>
<rect x="518" y="302" width="1" height="3" fill="#fff"/>
<rect x="520" y="302" width="1" height="3" fill="#fff"/>
<rect x="522" y="302" width="1" height="3" fill="#fff"/>
<rect x="535" y="302" width="1" height="3" fill="#fff"/>
<rect x="537" y="302" width="1" height="3" fill="#fff"/>
<rect x="548" y="302" width="1" height="3" fill="#fff"/>
<rect x="550" y="302" width="1" height="3" fill="#fff"/>
<rect x="552" y="302" width="1" height="3" fill="#fff"/>
<rect x="554" y="302" width="1" height="3" fill="#fff"/>
<rect x="556" y="302" width="1" height="3" fill="#fff"/>
<rect x="561" y="302" width="1" height="3" fill="#fff"/>
<rect x="571" y="302" width="1" height="3" fill="#fff"/>
<rect x="573" y="302" width="1" height="3" fill="#fff"/>
<rect x="582" y="302" width="1" height="3" fill="#fff"/>
<rect x="584" y="302" width="1" height="3" fill="#fff"/>
<rect x="586" y="302" width="1" height="3" fill="#fff"/>
<rect x="588" y="302" width="1" height="3" fill="#fff"/>
<rect x="595" y="302" width="1" height="3" fill="#fff"/>
<rect x="597" y="302" width="1" height="3" fill="#fff"/>
<rect x="564" y="300" width="5" height="10" fill="#fff"/>
<rect x="359" y="315" width="258" height="13" fill="#000"/>
<rect x="360" y="316" width="256" height="11" fill="#fff"/>
<rect x="359" y="315" width="10" height="13" fill="#000"/>
<rect x="360" y="316" width="6" height="2" fill="#fff"/>
<rect x="360" y="319" width="6" height="4" fill="#fff"/>
<rect x="360" y="324" width="6" height="3" fill="#fff"/>
<path d="M369,318.5 H376.5 V322.5 H370.5 V325.5 H375" fill="none" stroke="#000" stroke-width="1.3" shape-rendering="geometricPrecision"/>
<rect x="607" y="315" width="10" height="13" fill="#000"/>
<rect x="610" y="316" width="6" height="2" fill="#fff"/>
<rect x="610" y="319" width="6" height="4" fill="#fff"/>
<rect x="610" y="324" width="6" height="3" fill="#fff"/>
<path d="M607,318.5 H600.5 V322.5 H603.5 V325.5 H607" fill="none" stroke="#000" stroke-width="1.3" shape-rendering="geometricPrecision"/>
<rect x="379" y="317" width="220" height="9" fill="#000"/>
<rect x="381" y="319" width="1" height="3" fill="#fff"/>
<rect x="383" y="319" width="1" height="3" fill="#fff"/>
<rect x="390" y="319" width="1" height="3" fill="#fff"/>
<rect x="392" y="319" width="1" height="3" fill="#fff"/>
<rect x="394" y="319" width="1" height="3" fill="#fff"/>
<rect x="396" y="319" width="1" height="3" fill="#fff"/>
<rect x="405" y="319" width="1" height="3" fill="#fff"/>
<rect x="407" y="319" width="1" height="3" fill="#fff"/>
<rect x="409" y="319" width="1" height="3" fill="#fff"/>
<rect x="411" y="319" width="1" height="3" fill="#fff"/>
<rect x="413" y="319" width="1" height="3" fill="#fff"/>
<rect x="419" y="319" width="1" height="3" fill="#fff"/>
<rect x="421" y="319" width="1" height="3" fill="#fff"/>
<rect x="423" y="319" width="1" height="3" fill="#fff"/>
<rect x="425" y="319" width="1" height="3" fill="#fff"/>
<rect x="437" y="319" width="1" height="3" fill="#fff"/>
<rect x="439" y="319" width="1" height="3" fill="#fff"/>
<rect x="441" y="319" width="1" height="3" fill="#fff"/>
<rect x="452" y="319" width="1" height="3" fill="#fff"/>
<rect x="454" y="319" width="1" height="3" fill="#fff"/>
<rect x="456" y="319" width="1" height="3" fill="#fff"/>
<rect x="458" y="319" width="1" height="3" fill="#fff"/>
<rect x="463" y="319" width="1" height="3" fill="#fff"/>
<rect x="516" y="319" width="1" height="3" fill="#fff"/>
<rect x="518" y="319" width="1" height="3" fill="#fff"/>
<rect x="520" y="319" width="1" height="3" fill="#fff"/>
<rect x="522" y="319" width="1" height="3" fill="#fff"/>
<rect x="535" y="319" width="1" height="3" fill="#fff"/>
<rect x="537" y="319" width="1" height="3" fill="#fff"/>
<rect x="548" y="319" width="1" height="3" fill="#fff"/>
<rect x="550" y="319" width="1" height="3" fill="#fff"/>
<rect x="552" y="319" width="1" height="3" fill="#fff"/>
<rect x="554" y="319" width="1" height="3" fill="#fff"/>
<rect x="556" y="319" width="1" height="3" fill="#fff"/>
<rect x="561" y="319" width="1" height="3" fill="#fff"/>
<rect x="571" y="319" width="1" height="3" fill="#fff"/>
<rect x="573" y="319" width="1" height="3" fill="#fff"/>
<rect x="582" y="319" width="1" height="3" fill="#fff"/>
<rect x="584" y="319" width="1" height="3" fill="#fff"/>
<rect x="586" y="319" width="1" height="3" fill="#fff"/>
<rect x="588" y="319" width="1" height="3" fill="#fff"/>
<rect x="595" y="319" width="1" height="3" fill="#fff"/>
<rect x="597" y="319" width="1" height="3" fill="#fff"/>
<rect x="564" y="317" width="5" height="10" fill="#fff"/>
<rect x="466" y="298" width="44" height="13" rx="1.5" ry="1.5" fill="#fff" stroke="#000" stroke-width="2" shape-rendering="geometricPrecision"/>
<text transform="translate(488.3,308.5) scale(0.95,1)" font-size="11" fill="#000" text-anchor="middle" stroke="#000" stroke-width="0.18" word-spacing="2.3">BANK 2</text>
<rect x="466" y="315" width="44" height="13" rx="1.5" ry="1.5" fill="#fff" stroke="#000" stroke-width="2" shape-rendering="geometricPrecision"/>
<text transform="translate(488.3,325.5) scale(0.95,1)" font-size="11" fill="#000" text-anchor="middle" stroke="#000" stroke-width="0.18" word-spacing="2.3">BANK 3</text>
<rect x="348" y="374" width="223" height="13" fill="#000"/>
<rect x="349" y="375" width="221" height="11" fill="#fff"/>
<rect x="348" y="374" width="10" height="13" fill="#000"/>
<rect x="349" y="375" width="6" height="2" fill="#fff"/>
<rect x="349" y="378" width="6" height="4" fill="#fff"/>
<rect x="349" y="383" width="6" height="3" fill="#fff"/>
<path d="M358,377.5 H365.5 V381.5 H359.5 V384.5 H364" fill="none" stroke="#000" stroke-width="1.3" shape-rendering="geometricPrecision"/>
<rect x="561" y="374" width="10" height="13" fill="#000"/>
<rect x="564" y="375" width="6" height="2" fill="#fff"/>
<rect x="564" y="378" width="6" height="4" fill="#fff"/>
<rect x="564" y="383" width="6" height="3" fill="#fff"/>
<path d="M561,377.5 H554.5 V381.5 H557.5 V384.5 H561" fill="none" stroke="#000" stroke-width="1.3" shape-rendering="geometricPrecision"/>
<rect x="368" y="376" width="185" height="11" fill="#000"/>
<rect x="369" y="378" width="1" height="3" fill="#fff"/>
<rect x="371" y="378" width="1" height="3" fill="#fff"/>
<rect x="378" y="378" width="1" height="3" fill="#fff"/>
<rect x="380" y="378" width="1" height="3" fill="#fff"/>
<rect x="382" y="378" width="1" height="3" fill="#fff"/>
<rect x="384" y="378" width="1" height="3" fill="#fff"/>
<rect x="393" y="378" width="1" height="3" fill="#fff"/>
<rect x="395" y="378" width="1" height="3" fill="#fff"/>
<rect x="397" y="378" width="1" height="3" fill="#fff"/>
<rect x="399" y="378" width="1" height="3" fill="#fff"/>
<rect x="401" y="378" width="1" height="3" fill="#fff"/>
<rect x="408" y="378" width="1" height="3" fill="#fff"/>
<rect x="410" y="378" width="1" height="3" fill="#fff"/>
<rect x="412" y="378" width="1" height="3" fill="#fff"/>
<rect x="414" y="378" width="1" height="3" fill="#fff"/>
<rect x="425" y="378" width="1" height="3" fill="#fff"/>
<rect x="427" y="378" width="1" height="3" fill="#fff"/>
<rect x="429" y="378" width="1" height="3" fill="#fff"/>
<rect x="441" y="378" width="1" height="3" fill="#fff"/>
<rect x="443" y="378" width="1" height="3" fill="#fff"/>
<rect x="445" y="378" width="1" height="3" fill="#fff"/>
<rect x="447" y="378" width="1" height="3" fill="#fff"/>
<rect x="451" y="378" width="1" height="3" fill="#fff"/>
<rect x="453" y="378" width="1" height="3" fill="#fff"/>
<rect x="466" y="378" width="1" height="3" fill="#fff"/>
<rect x="468" y="378" width="1" height="3" fill="#fff"/>
<rect x="478" y="378" width="1" height="3" fill="#fff"/>
<rect x="480" y="378" width="1" height="3" fill="#fff"/>
<rect x="482" y="378" width="1" height="3" fill="#fff"/>
<rect x="489" y="378" width="1" height="3" fill="#fff"/>
<rect x="491" y="378" width="1" height="3" fill="#fff"/>
<rect x="493" y="378" width="1" height="3" fill="#fff"/>
<rect x="495" y="378" width="1" height="3" fill="#fff"/>
<rect x="497" y="378" width="1" height="3" fill="#fff"/>
<rect x="504" y="378" width="1" height="3" fill="#fff"/>
<rect x="506" y="378" width="1" height="3" fill="#fff"/>
<rect x="508" y="378" width="1" height="3" fill="#fff"/>
<rect x="523" y="378" width="1" height="3" fill="#fff"/>
<rect x="525" y="378" width="1" height="3" fill="#fff"/>
<rect x="536" y="378" width="1" height="3" fill="#fff"/>
<rect x="538" y="378" width="1" height="3" fill="#fff"/>
<rect x="540" y="378" width="1" height="3" fill="#fff"/>
<rect x="542" y="378" width="1" height="3" fill="#fff"/>
<rect x="548" y="378" width="1" height="3" fill="#fff"/>
<rect x="348" y="401" width="223" height="13" fill="#000"/>
<rect x="349" y="402" width="221" height="11" fill="#fff"/>
<rect x="348" y="401" width="10" height="13" fill="#000"/>
<rect x="349" y="402" width="6" height="2" fill="#fff"/>
<rect x="349" y="405" width="6" height="4" fill="#fff"/>
<rect x="349" y="410" width="6" height="3" fill="#fff"/>
<path d="M358,404.5 H365.5 V408.5 H359.5 V411.5 H364" fill="none" stroke="#000" stroke-width="1.3" shape-rendering="geometricPrecision"/>
<rect x="561" y="401" width="10" height="13" fill="#000"/>
<rect x="564" y="402" width="6" height="2" fill="#fff"/>
<rect x="564" y="405" width="6" height="4" fill="#fff"/>
<rect x="564" y="410" width="6" height="3" fill="#fff"/>
<path d="M561,404.5 H554.5 V408.5 H557.5 V411.5 H561" fill="none" stroke="#000" stroke-width="1.3" shape-rendering="geometricPrecision"/>
<rect x="368" y="403" width="185" height="11" fill="#000"/>
<rect x="369" y="405" width="1" height="3" fill="#fff"/>
<rect x="371" y="405" width="1" height="3" fill="#fff"/>
<rect x="378" y="405" width="1" height="3" fill="#fff"/>
<rect x="380" y="405" width="1" height="3" fill="#fff"/>
<rect x="382" y="405" width="1" height="3" fill="#fff"/>
<rect x="384" y="405" width="1" height="3" fill="#fff"/>
<rect x="393" y="405" width="1" height="3" fill="#fff"/>
<rect x="395" y="405" width="1" height="3" fill="#fff"/>
<rect x="397" y="405" width="1" height="3" fill="#fff"/>
<rect x="399" y="405" width="1" height="3" fill="#fff"/>
<rect x="401" y="405" width="1" height="3" fill="#fff"/>
<rect x="408" y="405" width="1" height="3" fill="#fff"/>
<rect x="410" y="405" width="1" height="3" fill="#fff"/>
<rect x="412" y="405" width="1" height="3" fill="#fff"/>
<rect x="414" y="405" width="1" height="3" fill="#fff"/>
<rect x="425" y="405" width="1" height="3" fill="#fff"/>
<rect x="427" y="405" width="1" height="3" fill="#fff"/>
<rect x="429" y="405" width="1" height="3" fill="#fff"/>
<rect x="441" y="405" width="1" height="3" fill="#fff"/>
<rect x="443" y="405" width="1" height="3" fill="#fff"/>
<rect x="445" y="405" width="1" height="3" fill="#fff"/>
<rect x="447" y="405" width="1" height="3" fill="#fff"/>
<rect x="451" y="405" width="1" height="3" fill="#fff"/>
<rect x="453" y="405" width="1" height="3" fill="#fff"/>
<rect x="466" y="405" width="1" height="3" fill="#fff"/>
<rect x="468" y="405" width="1" height="3" fill="#fff"/>
<rect x="478" y="405" width="1" height="3" fill="#fff"/>
<rect x="480" y="405" width="1" height="3" fill="#fff"/>
<rect x="482" y="405" width="1" height="3" fill="#fff"/>
<rect x="489" y="405" width="1" height="3" fill="#fff"/>
<rect x="491" y="405" width="1" height="3" fill="#fff"/>
<rect x="493" y="405" width="1" height="3" fill="#fff"/>
<rect x="495" y="405" width="1" height="3" fill="#fff"/>
<rect x="497" y="405" width="1" height="3" fill="#fff"/>
<rect x="504" y="405" width="1" height="3" fill="#fff"/>
<rect x="506" y="405" width="1" height="3" fill="#fff"/>
<rect x="508" y="405" width="1" height="3" fill="#fff"/>
<rect x="523" y="405" width="1" height="3" fill="#fff"/>
<rect x="525" y="405" width="1" height="3" fill="#fff"/>
<rect x="536" y="405" width="1" height="3" fill="#fff"/>
<rect x="538" y="405" width="1" height="3" fill="#fff"/>
<rect x="540" y="405" width="1" height="3" fill="#fff"/>
<rect x="542" y="405" width="1" height="3" fill="#fff"/>
<rect x="548" y="405" width="1" height="3" fill="#fff"/>
<rect x="348" y="388" width="223" height="13" fill="#000"/>
<rect x="349" y="389" width="221" height="11" fill="#fff"/>
<rect x="348" y="388" width="10" height="13" fill="#000"/>
<rect x="349" y="389" width="6" height="2" fill="#fff"/>
<rect x="349" y="392" width="6" height="4" fill="#fff"/>
<rect x="349" y="397" width="6" height="3" fill="#fff"/>
<path d="M358,391.5 H365.5 V395.5 H359.5 V398.5 H364" fill="none" stroke="#000" stroke-width="1.3" shape-rendering="geometricPrecision"/>
<rect x="561" y="388" width="10" height="13" fill="#000"/>
<rect x="564" y="389" width="6" height="2" fill="#fff"/>
<rect x="564" y="392" width="6" height="4" fill="#fff"/>
<rect x="564" y="397" width="6" height="3" fill="#fff"/>
<path d="M561,391.5 H554.5 V395.5 H557.5 V398.5 H561" fill="none" stroke="#000" stroke-width="1.3" shape-rendering="geometricPrecision"/>
<rect x="368" y="390" width="185" height="9" fill="#000"/>
<rect x="369" y="392" width="1" height="3" fill="#fff"/>
<rect x="371" y="392" width="1" height="3" fill="#fff"/>
<rect x="378" y="392" width="1" height="3" fill="#fff"/>
<rect x="380" y="392" width="1" height="3" fill="#fff"/>
<rect x="382" y="392" width="1" height="3" fill="#fff"/>
<rect x="384" y="392" width="1" height="3" fill="#fff"/>
<rect x="393" y="392" width="1" height="3" fill="#fff"/>
<rect x="395" y="392" width="1" height="3" fill="#fff"/>
<rect x="397" y="392" width="1" height="3" fill="#fff"/>
<rect x="399" y="392" width="1" height="3" fill="#fff"/>
<rect x="401" y="392" width="1" height="3" fill="#fff"/>
<rect x="408" y="392" width="1" height="3" fill="#fff"/>
<rect x="410" y="392" width="1" height="3" fill="#fff"/>
<rect x="412" y="392" width="1" height="3" fill="#fff"/>
<rect x="414" y="392" width="1" height="3" fill="#fff"/>
<rect x="425" y="392" width="1" height="3" fill="#fff"/>
<rect x="427" y="392" width="1" height="3" fill="#fff"/>
<rect x="429" y="392" width="1" height="3" fill="#fff"/>
<rect x="489" y="392" width="1" height="3" fill="#fff"/>
<rect x="491" y="392" width="1" height="3" fill="#fff"/>
<rect x="493" y="392" width="1" height="3" fill="#fff"/>
<rect x="495" y="392" width="1" height="3" fill="#fff"/>
<rect x="497" y="392" width="1" height="3" fill="#fff"/>
<rect x="504" y="392" width="1" height="3" fill="#fff"/>
<rect x="506" y="392" width="1" height="3" fill="#fff"/>
<rect x="508" y="392" width="1" height="3" fill="#fff"/>
<rect x="523" y="392" width="1" height="3" fill="#fff"/>
<rect x="525" y="392" width="1" height="3" fill="#fff"/>
<rect x="536" y="392" width="1" height="3" fill="#fff"/>
<rect x="538" y="392" width="1" height="3" fill="#fff"/>
<rect x="540" y="392" width="1" height="3" fill="#fff"/>
<rect x="542" y="392" width="1" height="3" fill="#fff"/>
<rect x="548" y="392" width="1" height="3" fill="#fff"/>
<rect x="348" y="415" width="223" height="13" fill="#000"/>
<rect x="349" y="416" width="221" height="11" fill="#fff"/>
<rect x="348" y="415" width="10" height="13" fill="#000"/>
<rect x="349" y="416" width="6" height="2" fill="#fff"/>
<rect x="349" y="419" width="6" height="4" fill="#fff"/>
<rect x="349" y="424" width="6" height="3" fill="#fff"/>
<path d="M358,418.5 H365.5 V422.5 H359.5 V425.5 H364" fill="none" stroke="#000" stroke-width="1.3" shape-rendering="geometricPrecision"/>
<rect x="561" y="415" width="10" height="13" fill="#000"/>
<rect x="564" y="416" width="6" height="2" fill="#fff"/>
<rect x="564" y="419" width="6" height="4" fill="#fff"/>
<rect x="564" y="424" width="6" height="3" fill="#fff"/>
<path d="M561,418.5 H554.5 V422.5 H557.5 V425.5 H561" fill="none" stroke="#000" stroke-width="1.3" shape-rendering="geometricPrecision"/>
<rect x="368" y="417" width="185" height="9" fill="#000"/>
<rect x="369" y="419" width="1" height="3" fill="#fff"/>
<rect x="371" y="419" width="1" height="3" fill="#fff"/>
<rect x="378" y="419" width="1" height="3" fill="#fff"/>
<rect x="380" y="419" width="1" height="3" fill="#fff"/>
<rect x="382" y="419" width="1" height="3" fill="#fff"/>
<rect x="384" y="419" width="1" height="3" fill="#fff"/>
<rect x="393" y="419" width="1" height="3" fill="#fff"/>
<rect x="395" y="419" width="1" height="3" fill="#fff"/>
<rect x="397" y="419" width="1" height="3" fill="#fff"/>
<rect x="399" y="419" width="1" height="3" fill="#fff"/>
<rect x="401" y="419" width="1" height="3" fill="#fff"/>
<rect x="408" y="419" width="1" height="3" fill="#fff"/>
<rect x="410" y="419" width="1" height="3" fill="#fff"/>
<rect x="412" y="419" width="1" height="3" fill="#fff"/>
<rect x="414" y="419" width="1" height="3" fill="#fff"/>
<rect x="425" y="419" width="1" height="3" fill="#fff"/>
<rect x="427" y="419" width="1" height="3" fill="#fff"/>
<rect x="429" y="419" width="1" height="3" fill="#fff"/>
<rect x="489" y="419" width="1" height="3" fill="#fff"/>
<rect x="491" y="419" width="1" height="3" fill="#fff"/>
<rect x="493" y="419" width="1" height="3" fill="#fff"/>
<rect x="495" y="419" width="1" height="3" fill="#fff"/>
<rect x="497" y="419" width="1" height="3" fill="#fff"/>
<rect x="504" y="419" width="1" height="3" fill="#fff"/>
<rect x="506" y="419" width="1" height="3" fill="#fff"/>
<rect x="508" y="419" width="1" height="3" fill="#fff"/>
<rect x="523" y="419" width="1" height="3" fill="#fff"/>
<rect x="525" y="419" width="1" height="3" fill="#fff"/>
<rect x="536" y="419" width="1" height="3" fill="#fff"/>
<rect x="538" y="419" width="1" height="3" fill="#fff"/>
<rect x="540" y="419" width="1" height="3" fill="#fff"/>
<rect x="542" y="419" width="1" height="3" fill="#fff"/>
<rect x="548" y="419" width="1" height="3" fill="#fff"/>
<rect x="456" y="375" width="7" height="5" fill="#fff"/>
<rect x="456" y="395" width="7" height="5" fill="#fff"/>
<rect x="456" y="402" width="7" height="5" fill="#fff"/>
<rect x="456" y="422" width="7" height="5" fill="#fff"/>
<rect x="438" y="382" width="44" height="11" rx="1.5" ry="1.5" fill="#fff" shape-rendering="geometricPrecision"/>
<text transform="translate(460.0,391.5) scale(0.95,1)" font-size="11" fill="#000" text-anchor="middle" stroke="#000" stroke-width="0.18" word-spacing="2.3">BANK 0</text>
<rect x="438" y="409" width="44" height="11" rx="1.5" ry="1.5" fill="#fff" shape-rendering="geometricPrecision"/>
<text transform="translate(460.0,418.5) scale(0.95,1)" font-size="11" fill="#000" text-anchor="middle" stroke="#000" stroke-width="0.18" word-spacing="2.3">BANK 1</text>
<rect x="367" y="387" width="71" height="1" fill="#fff"/>
<rect x="482" y="387" width="70" height="1" fill="#fff"/>
<rect x="367" y="414" width="71" height="1" fill="#fff"/>
<rect x="482" y="414" width="70" height="1" fill="#fff"/>
<rect x="608" y="334" width="21" height="6" fill="#000"/>
<rect x="610" y="335" width="1" height="4" fill="#fff"/>
<rect x="614" y="335" width="1" height="4" fill="#fff"/>
<rect x="618" y="335" width="1" height="4" fill="#fff"/>
<rect x="622" y="335" width="1" height="4" fill="#fff"/>
<rect x="625" y="336" width="2" height="2" fill="#fff"/>
<polygon points="641.87,340.54 637.92,339.27 631.93,338.72 631.37,337.80 628.97,337.70 629.03,336.30 631.43,336.40 632.06,335.53 638.08,335.48 642.12,334.54" fill="#000" shape-rendering="geometricPrecision"/>
<rect x="641" y="331" width="20" height="13" rx="1.5" ry="1.5" fill="#fff" stroke="#000" stroke-width="2" shape-rendering="geometricPrecision"/>
<polygon points="642.94,338.88 637.40,337.40 637.41,337.30 643.05,336.28" fill="#fff" shape-rendering="geometricPrecision"/>
<text transform="translate(644.5,341.0) scale(0.974,1)" font-size="11" fill="#000" text-anchor="start" stroke="#000" stroke-width="0.18">J2</text>
<rect x="581" y="341" width="20" height="89.5" fill="#000"/>
<rect x="582" y="342" width="18" height="87.5" fill="#fff"/>
<rect x="585" y="341" width="3" height="1" fill="#fff"/>
<rect x="585" y="342" width="2" height="1" fill="#000"/>
<rect x="584" y="346" width="6" height="6" fill="#000"/>
<rect x="585" y="347" width="4" height="4" fill="#fff"/>
<rect x="584" y="354" width="6" height="6" fill="#000"/>
<rect x="585" y="355" width="4" height="4" fill="#fff"/>
<rect x="584" y="361" width="6" height="6" fill="#000"/>
<rect x="585" y="362" width="4" height="4" fill="#fff"/>
<rect x="584" y="369" width="6" height="6" fill="#000"/>
<rect x="585" y="370" width="4" height="4" fill="#fff"/>
<rect x="584" y="376" width="6" height="6" fill="#000"/>
<rect x="585" y="377" width="4" height="4" fill="#fff"/>
<rect x="584" y="384" width="6" height="6" fill="#000"/>
<rect x="585" y="385" width="4" height="4" fill="#fff"/>
<rect x="584" y="391" width="6" height="6" fill="#000"/>
<rect x="585" y="392" width="4" height="4" fill="#fff"/>
<rect x="584" y="399" width="6" height="6" fill="#000"/>
<rect x="585" y="400" width="4" height="4" fill="#fff"/>
<rect x="584" y="406" width="6" height="6" fill="#000"/>
<rect x="585" y="407" width="4" height="4" fill="#fff"/>
<rect x="584" y="414" width="6" height="6" fill="#000"/>
<rect x="585" y="415" width="4" height="4" fill="#fff"/>
<rect x="584" y="421" width="6" height="6" fill="#000"/>
<rect x="585" y="422" width="4" height="4" fill="#fff"/>
<rect x="591" y="343.2" width="2" height="6.1" fill="#000" shape-rendering="geometricPrecision"/>
<rect x="591" y="350.5" width="2" height="5.0" fill="#000" shape-rendering="geometricPrecision"/>
<rect x="591" y="357.9" width="2" height="11.7" fill="#000" shape-rendering="geometricPrecision"/>
<rect x="591" y="372.1" width="2" height="6.2" fill="#000" shape-rendering="geometricPrecision"/>
<rect x="591" y="379.5" width="2" height="6.1" fill="#000" shape-rendering="geometricPrecision"/>
<rect x="591" y="386.8" width="2" height="5.6" fill="#000" shape-rendering="geometricPrecision"/>
<rect x="591" y="394.2" width="2" height="5.6" fill="#000" shape-rendering="geometricPrecision"/>
<rect x="591" y="401.6" width="2" height="6.8" fill="#000" shape-rendering="geometricPrecision"/>
<rect x="591" y="409" width="2" height="6.2" fill="#000" shape-rendering="geometricPrecision"/>
<rect x="591" y="415.8" width="2" height="6.2" fill="#000" shape-rendering="geometricPrecision"/>
<rect x="591" y="423.8" width="2" height="5.5" fill="#000" shape-rendering="geometricPrecision"/>
<rect x="594.5" y="343" width="1.0" height="86" fill="#000"/>
<ellipse cx="597.2" cy="345.5" rx="2.1" ry="2.4" fill="#000" shape-rendering="geometricPrecision"/>
<ellipse cx="597.2" cy="352.9" rx="2.1" ry="2.4" fill="#000" shape-rendering="geometricPrecision"/>
<ellipse cx="597.2" cy="360.4" rx="2.1" ry="2.4" fill="#000" shape-rendering="geometricPrecision"/>
<ellipse cx="597.2" cy="367.9" rx="2.1" ry="2.4" fill="#000" shape-rendering="geometricPrecision"/>
<ellipse cx="597.2" cy="375.3" rx="2.1" ry="2.4" fill="#000" shape-rendering="geometricPrecision"/>
<ellipse cx="597.2" cy="382.8" rx="2.1" ry="2.4" fill="#000" shape-rendering="geometricPrecision"/>
<ellipse cx="597.2" cy="390.2" rx="2.1" ry="2.4" fill="#000" shape-rendering="geometricPrecision"/>
<ellipse cx="597.2" cy="397.6" rx="2.1" ry="2.4" fill="#000" shape-rendering="geometricPrecision"/>
<ellipse cx="597.2" cy="405.1" rx="2.1" ry="2.4" fill="#000" shape-rendering="geometricPrecision"/>
<ellipse cx="597.2" cy="412.6" rx="2.1" ry="2.4" fill="#000" shape-rendering="geometricPrecision"/>
<ellipse cx="597.2" cy="420.0" rx="2.1" ry="2.4" fill="#000" shape-rendering="geometricPrecision"/>
<ellipse cx="597.2" cy="427.4" rx="2.1" ry="2.4" fill="#000" shape-rendering="geometricPrecision"/>
<rect x="616" y="382" width="20" height="30" fill="#000"/>
<rect x="614" y="387" width="2" height="20" fill="#000"/>
<rect x="635" y="378" width="3" height="37" fill="#000"/>
<rect x="638" y="376" width="3" height="41" fill="#000"/>
<rect x="611" y="389" width="4" height="7" fill="#000"/>
<rect x="612" y="390" width="2" height="5" fill="#fff"/>
<rect x="611" y="398" width="4" height="7" fill="#000"/>
<rect x="612" y="399" width="2" height="5" fill="#fff"/>
<rect x="238" y="405" width="83" height="20" fill="#000"/>
<rect x="239" y="406" width="81" height="18" fill="#fff"/>
<rect x="243" y="409" width="6" height="6" fill="#000"/>
<rect x="244" y="410" width="4" height="4" fill="#fff"/>
<rect x="243" y="416" width="6" height="6" fill="#000"/>
<rect x="244" y="417" width="4" height="4" fill="#fff"/>
<rect x="250" y="409" width="6" height="6" fill="#000"/>
<rect x="251" y="410" width="4" height="4" fill="#fff"/>
<rect x="250" y="416" width="6" height="6" fill="#000"/>
<rect x="251" y="417" width="4" height="4" fill="#fff"/>
<rect x="258" y="409" width="6" height="6" fill="#000"/>
<rect x="259" y="410" width="4" height="4" fill="#fff"/>
<rect x="258" y="416" width="6" height="6" fill="#000"/>
<rect x="259" y="417" width="4" height="4" fill="#fff"/>
<rect x="266" y="409" width="6" height="6" fill="#000"/>
<rect x="267" y="410" width="4" height="4" fill="#fff"/>
<rect x="266" y="416" width="6" height="6" fill="#000"/>
<rect x="267" y="417" width="4" height="4" fill="#fff"/>
<rect x="273" y="409" width="6" height="6" fill="#000"/>
<rect x="274" y="410" width="4" height="4" fill="#fff"/>
<rect x="273" y="416" width="6" height="6" fill="#000"/>
<rect x="274" y="417" width="4" height="4" fill="#fff"/>
<rect x="281" y="409" width="6" height="6" fill="#000"/>
<rect x="282" y="410" width="4" height="4" fill="#fff"/>
<rect x="281" y="416" width="6" height="6" fill="#000"/>
<rect x="282" y="417" width="4" height="4" fill="#fff"/>
<rect x="289" y="409" width="6" height="6" fill="#000"/>
<rect x="290" y="410" width="4" height="4" fill="#fff"/>
<rect x="289" y="416" width="6" height="6" fill="#000"/>
<rect x="290" y="417" width="4" height="4" fill="#fff"/>
<rect x="296" y="409" width="6" height="6" fill="#000"/>
<rect x="297" y="410" width="4" height="4" fill="#fff"/>
<rect x="296" y="416" width="6" height="6" fill="#000"/>
<rect x="297" y="417" width="4" height="4" fill="#fff"/>
<rect x="304" y="409" width="6" height="6" fill="#000"/>
<rect x="305" y="410" width="4" height="4" fill="#fff"/>
<rect x="304" y="416" width="6" height="6" fill="#000"/>
<rect x="305" y="417" width="4" height="4" fill="#fff"/>
<rect x="311" y="409" width="6" height="6" fill="#000"/>
<rect x="312" y="410" width="4" height="4" fill="#fff"/>
<rect x="311" y="416" width="6" height="6" fill="#000"/>
<rect x="312" y="417" width="4" height="4" fill="#fff"/>
<polygon points="225.00,411.50 229.00,412.60 235.00,412.90 235.60,413.80 238.00,413.80 238.00,415.20 235.60,415.20 235.00,416.10 229.00,416.40 225.00,417.50" fill="#000" shape-rendering="geometricPrecision"/>
<rect x="199" y="408" width="27" height="14" rx="2.5" ry="2.5" fill="#fff" stroke="#000" stroke-width="2" shape-rendering="geometricPrecision"/>
<polygon points="224.00,413.20 229.60,414.45 229.60,414.55 224.00,415.80" fill="#fff" shape-rendering="geometricPrecision"/>
<text transform="translate(203.2,419.0) scale(0.971,1)" font-size="11" fill="#000" text-anchor="start" stroke="#000" stroke-width="0.18">ATX</text>
</svg>
</body></html>
